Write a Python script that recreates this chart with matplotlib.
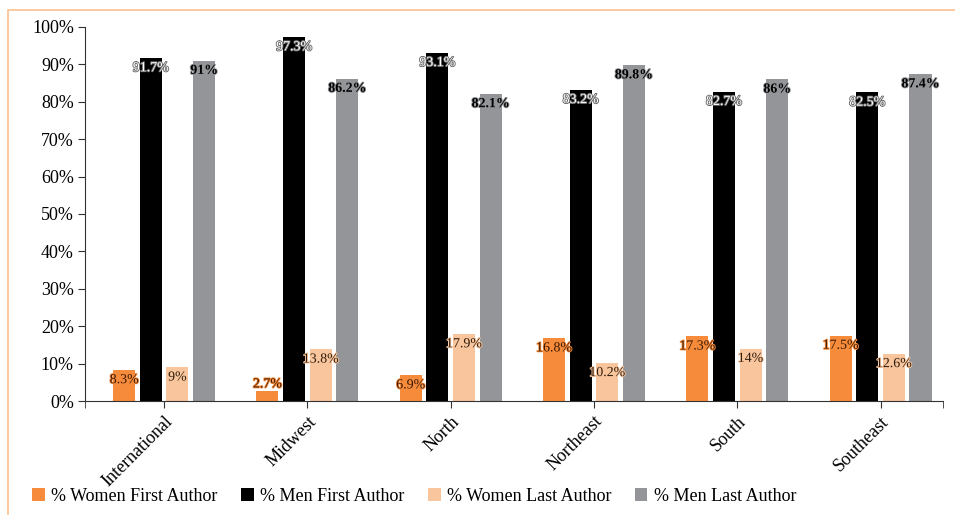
import matplotlib
matplotlib.use("Agg")
from matplotlib import pyplot
from matplotlib import patheffects
from matplotlib.patches import Rectangle
import numpy

regions = ["International", "Midwest", "North", "Northeast", "South", "Southeast"]
women_first = [8.3, 2.7, 6.9, 16.8, 17.3, 17.5]
men_first = [91.7, 97.3, 93.1, 83.2, 82.7, 82.5]
women_last = [9, 13.8, 17.9, 10.2, 14, 12.6]
men_last = [91, 86.2, 82.1, 89.8, 86, 87.4]
series_names = ["% Women First Author", "% Men First Author",
                "% Women Last Author", "% Men Last Author"]

ORANGE = "#f68b3c"
PEACH = "#f9c59c"
GRAY = "#939598"
SERIF = ["Liberation Serif", "DejaVu Serif"]

pyplot.rcParams["font.family"] = SERIF

fig = pyplot.figure(figsize=(9.55, 5.15), dpi=100)
ax = fig.add_axes([85/955, 1-401/515, (943-85)/955, (401-27)/515])

# orange frame around the whole chart
fig.patches.append(Rectangle((8/955, -0.1), 1.2, 1.1 - 10/515, transform=fig.transFigure,
                             fill=False, edgecolor="#fbc08f", linewidth=1.2))

x = numpy.arange(len(regions))
pitch = 0.186
width = 0.154

# (values, bar color, text color, halo color, weight)
styles = [
    (women_first, ORANGE, "#3a1800", ORANGE, "normal"),
    (men_first, "black", "white", "#6a6a6a", "normal"),
    (women_last, PEACH, "#2e1c0c", PEACH, "normal"),
    (men_last, GRAY, "black", GRAY, "bold"),
]

for k, (vals, color, tcol, halo, weight) in enumerate(styles):
    pos = x + (k - 1.5) * pitch
    ax.bar(pos, vals, width=width, color=color, label=series_names[k])
    for p, v in zip(pos, vals):
        label = ("%g%%" % v)
        dy = 5 if v < 4 else -7
        ax.annotate(label, (p, v), xytext=(0, dy), textcoords="offset points",
                    ha="center", va="center", fontsize=10, color=tcol, fontweight=weight,
                    path_effects=[patheffects.withStroke(linewidth=1.3, foreground=halo)])

ax.set_ylim(0, 100)
ax.set_xlim(-0.552, 5.436)
ax.set_yticks(range(0, 101, 10))
ax.set_yticklabels(["%d%%" % v for v in range(0, 101, 10)], fontsize=13)
ax.set_xticks(x)
ax.set_xticklabels(regions, rotation=45, ha="right", rotation_mode="anchor", fontsize=13)
ax.set_xticks([-0.552, 5.436], minor=True)
ax.tick_params(axis="x", which="both", direction="out", length=5, color="#333333")
ax.tick_params(axis="y", direction="out", length=5, color="#333333", pad=3)
for s in ["top", "right"]:
    ax.spines[s].set_visible(False)
for s in ["left", "bottom"]:
    ax.spines[s].set_color("#333333")

fig.legend(loc="lower left", bbox_to_anchor=(16/955, -0.012), ncol=4, frameon=False,
           prop={"family": SERIF, "size": 13}, handlelength=0.7, handleheight=0.7,
           handletextpad=0.35, columnspacing=1.3)

fig.savefig("out.png", dpi=100)
